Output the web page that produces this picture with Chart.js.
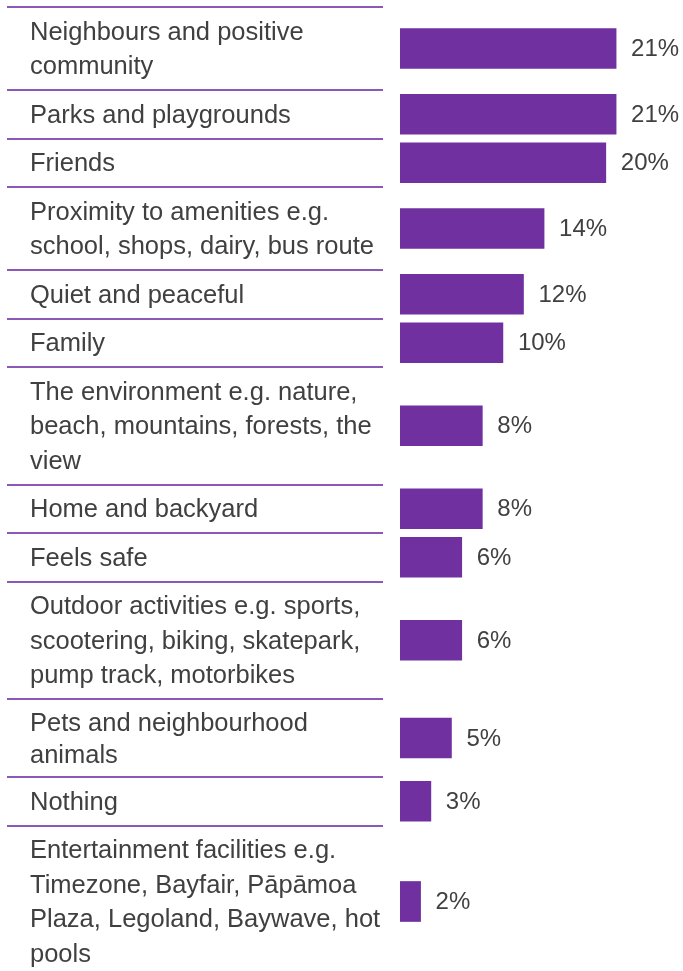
<!DOCTYPE html>
<html>
<head>
<meta charset="utf-8">
<script src="https://cdn.jsdelivr.net/npm/chart.js@4/dist/chart.umd.min.js"></script>
<style>
  html, body { margin: 0; padding: 0; background: #ffffff; }
  #wrap { width: 683px; height: 971px; position: relative; }
</style>
</head>
<body>
<div id="wrap"><canvas id="chart"></canvas></div>
<script>
// Categories, each written as the lines it wraps to
const categories = [
  ["Neighbours and positive", "community"],
  ["Parks and playgrounds"],
  ["Friends"],
  ["Proximity to amenities e.g.", "school, shops, dairy, bus route"],
  ["Quiet and peaceful"],
  ["Family"],
  ["The environment e.g. nature,", "beach, mountains, forests, the", "view"],
  ["Home and backyard"],
  ["Feels safe"],
  ["Outdoor activities e.g. sports,", "scootering, biking, skatepark,", "pump track, motorbikes"],
  ["Pets and neighbourhood", "animals"],
  ["Nothing"],
  ["Entertainment facilities e.g.", "Timezone, Bayfair, Pāpāmoa", "Plaza, Legoland, Baywave, hot", "pools"]
];

// Share of responses (%)
const percentages = [21, 21, 20, 14, 12, 10, 8, 8, 6, 6, 5, 3, 2];

// Value labels shown beside the bars
const valueLabels = ["21%", "21%", "20%", "14%", "12%", "10%", "8%", "8%", "6%", "6%", "5%", "3%", "2%"];

// Row layout: each row grows with the number of label lines
const H = 971;
const TOP = 7;
const LINE = 34.5;
const TIGHT_LINE = 32;        // the pets row is set a little tighter
const TIGHT_ROWS = [10];
const ROW_PAD = 14;
const lineHeightAt = i => (TIGHT_ROWS.includes(i) ? TIGHT_LINE : LINE);
const boundaries = [TOP];
categories.forEach((c, i) => boundaries.push(boundaries[i] + ROW_PAD + lineHeightAt(i) * c.length));
const centers = categories.map((c, i) => (boundaries[i] + boundaries[i + 1]) / 2);

const PURPLE = "#7030a0";
const TEXT = "#404040";
const FONT = "'Liberation Sans', Arial, Helvetica, sans-serif";
const LABEL_SIZE = 25.5;
const LABEL_NUDGE = 1.5;      // optical drop of the label block within its row

// Thin purple rules separating the rows
const separators = {
  id: "separators",
  beforeDatasetsDraw(chart) {
    const y = chart.scales.y;
    const ctx = chart.ctx;
    ctx.save();
    ctx.strokeStyle = "#8b58b8";
    ctx.lineWidth = 2;
    boundaries.slice(0, -1).forEach(b => {
      const py = Math.round(y.getPixelForValue(b));
      ctx.beginPath();
      ctx.moveTo(7, py);
      ctx.lineTo(383, py);
      ctx.stroke();
    });
    ctx.restore();
  }
};

// Percent labels placed just past the end of each bar
const barValues = {
  id: "barValues",
  afterDatasetsDraw(chart) {
    const meta = chart.getDatasetMeta(0);
    const ctx = chart.ctx;
    ctx.save();
    ctx.fillStyle = TEXT;
    ctx.font = "24px " + FONT;
    ctx.textAlign = "left";
    ctx.textBaseline = "middle";
    meta.data.forEach((bar, i) => {
      ctx.fillText(valueLabels[i], bar.x + 15, bar.y + 1);
    });
    ctx.restore();
  }
};

new Chart(document.getElementById("chart"), {
  type: "bar",
  data: {
    datasets: [{
      data: percentages.map((v, i) => ({ x: v, y: centers[i] })),
      backgroundColor: PURPLE,
      borderWidth: 0,
      barThickness: 40
    }]
  },
  options: {
    indexAxis: "y",
    responsive: true,
    maintainAspectRatio: false,
    animation: false,
    layout: { padding: { left: 30, right: 0, top: 0, bottom: 0 } },
    plugins: {
      legend: { display: false },
      tooltip: { enabled: false }
    },
    scales: {
      x: {
        type: "linear",
        display: false,
        min: 0,
        max: 27.5
      },
      y: {
        type: "linear",
        offset: false,
        min: 0,
        max: H,
        reverse: true,
        grid: { display: false, offset: false },
        border: { display: false },
        afterBuildTicks(scale) {
          scale.ticks = centers.map(v => ({ value: v + LABEL_NUDGE }));
        },
        afterFit(scale) {
          scale.width = 370;
          scale.paddingTop = 0;
          scale.paddingBottom = 0;
        },
        ticks: {
          autoSkip: false,
          crossAlign: "far",
          padding: 0,
          color: TEXT,
          font: ctx => ({
            family: FONT,
            size: LABEL_SIZE,
            lineHeight: lineHeightAt(ctx.index) / LABEL_SIZE
          }),
          callback(value, index) {
            return categories[index];
          }
        }
      }
    }
  },
  plugins: [separators, barValues]
});
</script>
</body>
</html>
